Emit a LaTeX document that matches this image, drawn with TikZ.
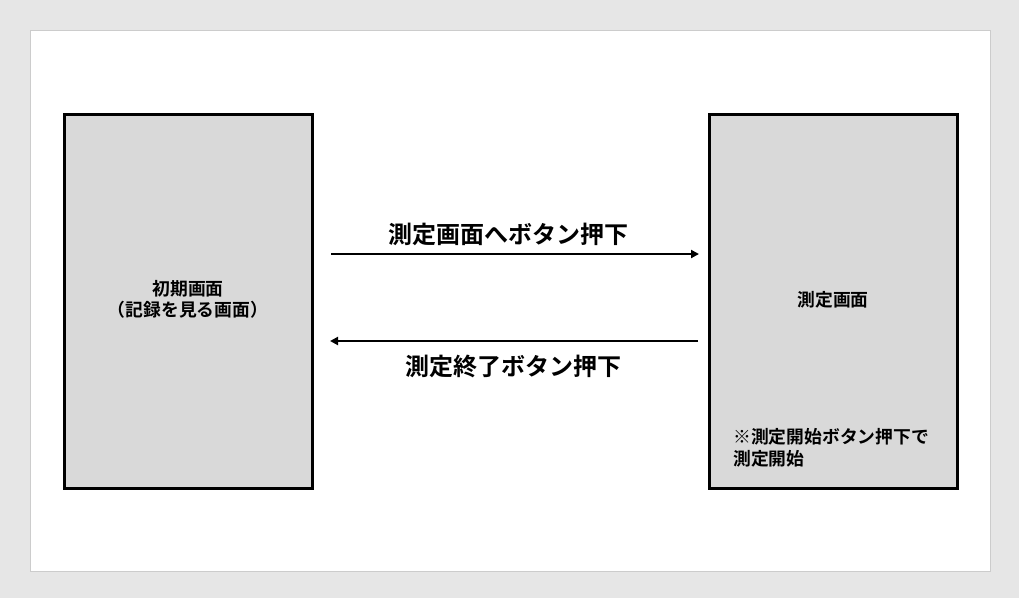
\documentclass[tikz,border=0pt]{standalone}
\usepackage{fontspec}
\newfontfamily\jpb{Noto Sans CJK JP Bold}
\usetikzlibrary{arrows.meta}
\definecolor{bgout}{HTML}{E6E6E6}
\definecolor{pageedge}{HTML}{CCCCCC}
\definecolor{boxfill}{HTML}{D9D9D9}
\tikzset{
  screen/.style={draw=black, line width=3pt, fill=boxfill},
  conn/.style={line width=2.8pt, -{Triangle[length=8pt,width=8pt]}},
  biglabel/.style={font=\jpb\fontsize{24}{28}\selectfont, inner sep=0pt},
  smalllabel/.style={font=\jpb\fontsize{17.8}{22}\selectfont, inner sep=0pt, align=center},
}
\begin{document}
\begin{tikzpicture}[x=1pt,y=-1pt]
\useasboundingbox (0,0) rectangle (1019,598);
\fill[bgout] (0,0) rectangle (1019,598);
\draw[pageedge, fill=white, line width=1pt] (30,30.5) rectangle (990,571);
\draw[screen] (64,114.5) rectangle (312,488.5);
\draw[screen] (709,114.5) rectangle (957,488.5);
\coordinate (La) at (331,254);
\coordinate (Ra) at (699,254);
\coordinate (Rb) at (698,341);
\coordinate (Lb) at (330,341);
\draw[conn] (La) -- (Ra);
\draw[conn] (Rb) -- (Lb);
\node[biglabel] (t1) at (508.5,234) {測定画面へボタン押下};
\node[biglabel] (t2) at (513,366) {測定終了ボタン押下};
\node[smalllabel] (l1) at (188,289) {初期画面};
\node[smalllabel] (l2) at (188,310) {（記録を見る画面）};
\node[smalllabel] (r1) at (833,300) {測定画面};
\node[smalllabel, anchor=west] (n1) at (733,437) {※測定開始ボタン押下で};
\node[smalllabel, anchor=west] (n2) at (733,459) {測定開始};
\end{tikzpicture}
\end{document}
